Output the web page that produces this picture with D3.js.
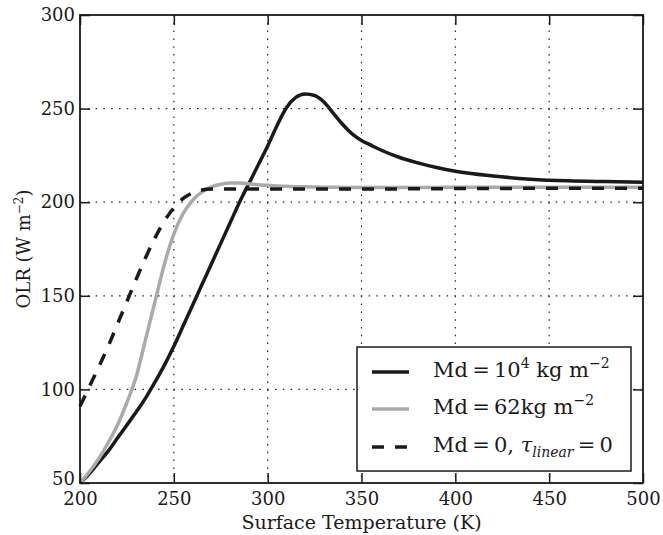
<!DOCTYPE html>
<html>
<head>
<meta charset="utf-8">
<script src="https://cdn.jsdelivr.net/npm/d3@7"></script>
<style>
  body { margin: 0; background: #fff; }
  text { font-family: "DejaVu Serif", serif; fill: #1a1a1a; }
</style>
</head>
<body>
<svg></svg>
<script>
// surface temperature samples (K)
const temps = [200, 205, 210, 215, 220, 225, 230, 235, 240, 245, 250, 255, 260, 265, 270, 275,
  280, 285, 290, 295, 300, 305, 310, 315, 320, 325, 330, 335, 340, 345, 350, 355, 360,
  370, 380, 390, 400, 420, 440, 460, 480, 500];

// OLR, Md = 1e4 kg m-2
const olrHeavy = [50, 55, 61, 67, 74, 81, 88, 95.5, 104, 113, 123, 134, 145, 156, 167, 178,
  189, 200, 210, 220, 230, 241, 250.5, 256, 257.8, 257, 253.5, 247.5, 241.5, 236.5, 233, 230.5, 228,
  224, 221, 218.5, 216.5, 214, 212.3, 211.4, 211, 210.7];

// OLR, Md = 62 kg m-2
const olrLight = [50, 56, 63, 71.5, 81, 93, 107, 127, 147, 167, 183, 194, 201, 205.5, 208.2, 209.6,
  210.2, 210.2, 209.8, 209.3, 209, 208.7, 208.5, 208.3, 208.2, 208.1, 208, 208, 207.9, 207.9, 207.9, 207.9, 207.9,
  207.9, 207.9, 207.9, 208, 208, 208, 208, 208, 208];

// OLR, Md = 0, tau_linear = 0
const olrDry = [91, 101.5, 112, 123, 135, 147, 159, 170.5, 181, 190, 197, 202, 205, 206.5, 207, 207,
  207, 207, 207, 207, 207, 207, 207, 207, 207, 207, 207, 207, 207, 207, 207, 207, 207.1,
  207.1, 207.2, 207.2, 207.3, 207.3, 207.4, 207.4, 207.5, 207.5];

const xTicks = [200, 250, 300, 350, 400, 450, 500];
const yTicks = [50, 100, 150, 200, 250, 300];

const margin = {top: 15, right: 20, bottom: 52, left: 80},
    width = 663 - margin.left - margin.right,
    height = 535 - margin.top - margin.bottom;

const root = d3.select("svg")
    .attr("width", 663)
    .attr("height", 535);

const svg = root.append("g")
    .attr("transform", `translate(${margin.left},${margin.top})`);

const x = d3.scaleLinear().domain([200, 500]).range([0, width]);
const y = d3.scaleLinear().domain([50, 300]).range([height, 0]);

// dotted grid
svg.append("g").selectAll("line")
    .data(xTicks.slice(1, -1))
    .join("line")
    .attr("x1", d => x(d)).attr("x2", d => x(d))
    .attr("y1", 0).attr("y2", height)
    .attr("stroke", "#222").attr("stroke-width", 1.2)
    .attr("stroke-dasharray", "1.5,6.3");

svg.append("g").selectAll("line")
    .data(yTicks.slice(1, -1))
    .join("line")
    .attr("x1", 0).attr("x2", width)
    .attr("y1", d => y(d)).attr("y2", d => y(d))
    .attr("stroke", "#222").attr("stroke-width", 1.2)
    .attr("stroke-dasharray", "1.5,6.3");

// curves
const series = [
  {name: "heavy", values: olrHeavy, color: "#1a1a1a", dash: null},
  {name: "light", values: olrLight, color: "#aaaaaa", dash: null},
  {name: "dry", values: olrDry, color: "#1a1a1a", dash: "12,11"}
];

const line = d3.line()
    .x(d => x(d[0]))
    .y(d => y(d[1]))
    .curve(d3.curveMonotoneX);

series.forEach(s => {
  svg.append("path")
      .datum(temps.map((t, i) => [t, s.values[i]]))
      .attr("fill", "none")
      .attr("stroke", s.color)
      .attr("stroke-width", 3.5)
      .attr("stroke-dasharray", s.dash)
      .attr("d", line);
});

// axes with inward ticks on all sides
function styleAxis(g) {
  g.select(".domain").remove();
  g.selectAll(".tick line").attr("stroke", "#1a1a1a").attr("stroke-width", 1.5);
  g.selectAll("text").attr("font-size", 18).attr("fill", "#1a1a1a")
      .style("font-family", '"DejaVu Serif", serif');
}

svg.append("g")
    .attr("transform", `translate(0,${height})`)
    .call(d3.axisBottom(x).tickValues(xTicks).tickSize(-10).tickPadding(9))
    .call(styleAxis);

svg.append("g")
    .call(d3.axisTop(x).tickValues(xTicks).tickSize(-10).tickFormat(""))
    .call(styleAxis);

svg.append("g")
    .call(d3.axisLeft(y).tickValues(yTicks).tickSize(-10).tickPadding(5))
    .call(styleAxis)
    // the lowest label sits just above the "200" of the x axis
    .selectAll(".tick text")
    .filter(d => d === 50)
    .attr("dy", "0.1em");

svg.append("g")
    .attr("transform", `translate(${width},0)`)
    .call(d3.axisRight(y).tickValues(yTicks).tickSize(-10).tickFormat(""))
    .call(styleAxis);

// frame
svg.append("rect")
    .attr("width", width).attr("height", height)
    .attr("fill", "none")
    .attr("stroke", "#1a1a1a")
    .attr("stroke-width", 1.8);

// axis titles
root.append("text")
    .attr("x", margin.left + width / 2)
    .attr("y", 529)
    .attr("text-anchor", "middle")
    .attr("font-size", 19)
    .text("Surface Temperature (K)");

const yl = root.append("text")
    .attr("transform", `translate(30,${margin.top + height / 2}) rotate(-90)`)
    .attr("text-anchor", "middle")
    .attr("font-size", 18);
yl.append("tspan").text("OLR (W m");
yl.append("tspan").attr("font-size", 12).attr("dy", -7).text("\u22122");
yl.append("tspan").attr("dy", 7).text(")");

// legend
const legend = svg.append("g")
    .attr("transform", `translate(${357 - margin.left},${347 - margin.top})`);

legend.append("rect")
    .attr("width", 274).attr("height", 124)
    .attr("fill", "#fff")
    .attr("stroke", "#1a1a1a")
    .attr("stroke-width", 1.5);

const rowY = [25, 62, 100];
series.forEach((s, i) => {
  legend.append("line")
      .attr("x1", 15).attr("x2", 52)
      .attr("y1", rowY[i]).attr("y2", rowY[i])
      .attr("stroke", s.color)
      .attr("stroke-width", 3.5)
      .attr("stroke-dasharray", s.dash);
});

const eq = "\u2009=\u2009";
const t1 = legend.append("text").attr("x", 76).attr("y", rowY[0] + 5)
    .attr("font-size", 21);
t1.append("tspan").text("Md" + eq + "10");
t1.append("tspan").attr("font-size", 14).attr("dy", -9).text("4");
t1.append("tspan").attr("dy", 9).text(" kg m");
t1.append("tspan").attr("font-size", 14).attr("dy", -9).text("\u22122");

const t2 = legend.append("text").attr("x", 76).attr("y", rowY[1] + 5)
    .attr("font-size", 21);
t2.append("tspan").text("Md" + eq + "62kg m");
t2.append("tspan").attr("font-size", 14).attr("dy", -9).text("\u22122");

const t3 = legend.append("text").attr("x", 76).attr("y", rowY[2] + 5)
    .attr("font-size", 21);
t3.append("tspan").text("Md" + eq + "0, ");
t3.append("tspan").attr("font-style", "italic").text("\u03c4");
t3.append("tspan").attr("font-style", "italic").attr("font-size", 14).attr("dy", 5).text("linear");
t3.append("tspan").attr("dy", -5).text(eq + "0");
</script>
</body>
</html>
